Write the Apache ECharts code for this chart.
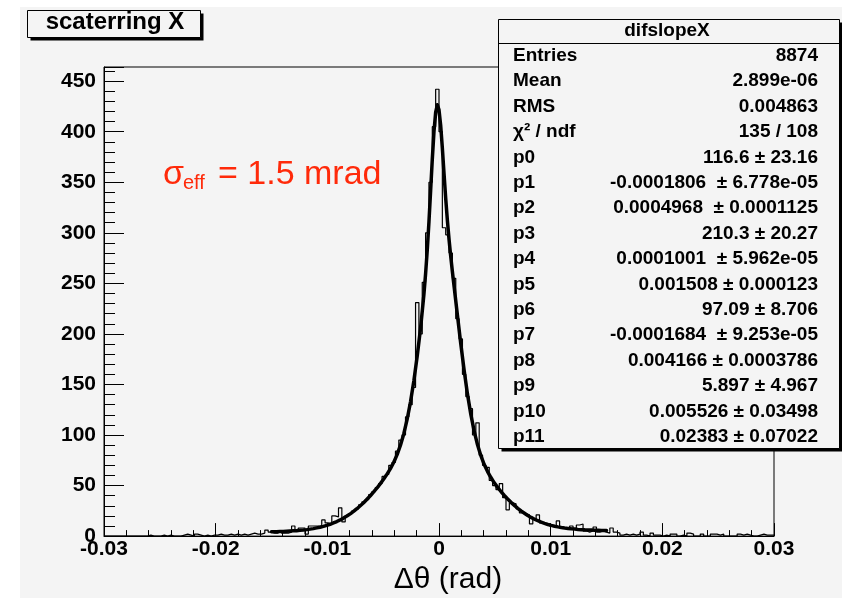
<!DOCTYPE html>
<html>
<head>
<meta charset="utf-8">
<script src="https://cdn.jsdelivr.net/npm/echarts@6/dist/echarts.min.js"></script>
<style>
html,body{margin:0;padding:0;background:#fff;}
#chart{width:842px;height:600px;}
</style>
</head>
<body>
<div id="chart"></div>
<script>
// ---- data ----
const histTitle = 'scaterring X';
const statsTitle = 'difslopeX';
const binMin = -0.03;
const binWidth = 0.0003;
const xTicks = [-0.03, -0.02, -0.01, 0, 0.01, 0.02, 0.03];
const yTicks = [0, 50, 100, 150, 200, 250, 300, 350, 400, 450];
const histCounts = [
  0,0,0,0,0,0,0,0,0,0,
  0,0,0,1,0,0,0,1,0,1,
  0,0,0,1,2,1,0,2,1,0,
  1,0,1,1,2,1,1,2,1,2,
  1,2,1,2,3,2,2,3,6,4,
  3,3,5,3,3,4,10,6,8,8,
  2,10,10,10,10,16,13,12,20,19,
  28,14,20,22,25,27,31,34,36,41,
  44,48,52,59,61,70,73,84,95,100,
  118,130,147,231,200,251,300,350,405,442,
  400,305,298,280,255,215,195,160,138,126,
  100,112,80,70,68,55,50,46,52,38,
  26,33,32,27,23,22,21,12,17,21,
  13,12,12,10,10,15,8,8,7,10,
  8,11,12,5,4,5,9,4,5,4,
  3,8,4,3,1,2,1,2,1,2,
  4,1,0,3,1,1,0,1,0,2,
  2,0,1,0,3,2,0,0,2,0,
  0,2,2,1,2,0,0,0,0,2,
  1,2,1,0,0,1,2,1,1,1
];
const fitX = [
  -0.015,-0.01485,-0.01455,-0.01425,-0.01395,-0.01365,-0.01335,-0.01305,-0.01275,-0.01245,
  -0.01215,-0.01185,-0.01155,-0.01125,-0.01095,-0.01065,-0.01035,-0.01005,-0.00975,-0.00945,
  -0.00915,-0.00885,-0.00855,-0.00825,-0.00795,-0.00765,-0.00735,-0.00705,-0.00675,-0.00645,
  -0.00615,-0.00585,-0.00555,-0.00525,-0.00495,-0.00465,-0.00435,-0.00405,-0.00375,-0.00345,
  -0.00315,-0.00285,-0.00255,-0.00225,-0.00195,-0.00165,-0.00135,
  -0.0012,-0.00105,-0.0009,-0.00075,-0.0006,-0.00045,-0.0003,-0.00015,0,
  0.00015,0.0003,0.00045,0.0006,0.00075,0.0009,0.00105,0.0012,0.00135,
  0.00165,0.00195,0.00225,0.00255,0.00285,0.00315,0.00345,0.00375,0.00405,0.00435,
  0.00465,0.00495,0.00525,0.00555,0.00585,0.00615,0.00645,0.00675,0.00705,0.00735,
  0.00765,0.00795,0.00825,0.00855,0.00885,0.00915,0.00945,0.00975,0.01005,0.01035,
  0.01065,0.01095,0.01125,0.01155,0.01185,0.01215,0.01245,0.01275,0.01305,0.01335,
  0.01365,0.01395,0.01425,0.01455,0.01485,0.015
];
const fitY = [
  4.25,4.3,4.4,4.5,4.6,4.8,5.0,5.2,5.4,5.7,
  6.0,6.4,6.9,7.4,8.1,8.8,9.6,10.6,11.7,13.0,
  14.4,16.0,17.8,19.8,22.0,24.4,27.1,30.0,33.0,36.4,
  39.9,43.7,47.6,51.9,56.4,61.3,66.8,73.1,80.6,89.9,
  101.3,115.6,132.8,153.7,178.1,205.8,239.1,
  259.6,283.1,310.9,341.7,372.8,400.1,419.0,426.6,421.6,
  406.2,383.8,358.6,334.1,312.3,293.4,276.7,261.5,247.1,
  218.5,190.2,164.1,140.4,120.4,103.8,90.3,79.5,70.8,63.8,
  57.9,52.7,48.2,44.1,40.2,36.7,33.4,30.4,27.5,24.9,
  22.6,20.4,18.5,16.7,15.2,13.8,12.6,11.5,10.6,9.8,
  9.1,8.5,8.0,7.6,7.2,6.9,6.6,6.4,6.2,6.1,
  5.95,5.83,5.74,5.66,5.6,5.57
];
const statLabels = ['Entries','Mean','RMS','χ² / ndf','p0','p1','p2','p3','p4','p5','p6','p7','p8','p9','p10','p11'];
const statValues = ['8874','2.899e-06','0.004863','135 / 108',
  '116.6 ± 23.16','-0.0001806  ± 6.778e-05','0.0004968  ± 0.0001125','210.3 ± 20.27',
  '0.0001001  ± 5.962e-05','0.001508 ± 0.000123','97.09 ± 8.706','-0.0001684  ± 9.253e-05',
  '0.004166 ± 0.0003786','5.897 ± 4.967','0.005526 ± 0.03498','0.02383 ± 0.07022'];
const xAxisTitle = 'Δθ (rad)';
const noteMain = 'σ';
const noteSub = 'eff';
const noteRest = '= 1.5 mrad';

// ---- build ----
const FONT = '"Liberation Sans", Arial, Helvetica, sans-serif';
const BG = '#f4f4f4';
const histPoints = histCounts.map((v, k) => [binMin + k * binWidth, v]);
histPoints.push([binMin + histCounts.length * binWidth, histCounts[histCounts.length - 1]]);
const fitPoints = fitX.map((x, i) => [x, fitY[i]]);

const graphics = [
  {type:'rect', z:-100, silent:true, shape:{x:20, y:7, width:822, height:591}, style:{fill:BG}},
  // title box
  {type:'rect', z:100, shape:{x:30.5, y:13.5, width:173, height:27}, style:{fill:'#000'}},
  {type:'rect', z:101, shape:{x:27.5, y:10.5, width:173, height:27}, style:{fill:BG, stroke:'#000', lineWidth:1}},
  {type:'text', z:102, x:115, y:22, style:{text:histTitle, font:'bold 24px ' + FONT, fill:'#000', align:'center', verticalAlign:'middle'}},
  // stats box
  {type:'rect', z:100, shape:{x:501.5, y:22.5, width:341, height:429}, style:{fill:'#000'}},
  {type:'rect', z:101, shape:{x:498.5, y:19.5, width:341, height:429}, style:{fill:BG, stroke:'#000', lineWidth:1}},
  {type:'line', z:102, shape:{x1:498.5, y1:43.5, x2:839.5, y2:43.5}, style:{stroke:'#000', lineWidth:1}},
  {type:'text', z:102, x:667, y:31, style:{text:statsTitle, font:'bold 19px ' + FONT, fill:'#000', align:'center', verticalAlign:'middle'}},
  // red annotation
  {type:'text', z:50, x:163, y:175, style:{text:noteMain, font:'34px ' + FONT, fill:'#ff2a0a', align:'left', verticalAlign:'middle'}},
  {type:'text', z:50, x:183, y:183, style:{text:noteSub, font:'20px ' + FONT, fill:'#ff2a0a', align:'left', verticalAlign:'middle'}},
  {type:'text', z:50, x:218, y:175, style:{text:noteRest, font:'34px ' + FONT, fill:'#ff2a0a', align:'left', verticalAlign:'middle'}}
];
statLabels.forEach((lab, i) => {
  const y = 55.7 + i * 25.4;
  graphics.push({type:'text', z:102, x:513, y:y, style:{text:lab, font:'bold 19px ' + FONT, fill:'#000', align:'left', verticalAlign:'middle'}});
  graphics.push({type:'text', z:102, x:818, y:y, style:{text:statValues[i], font:'bold 19px ' + FONT, fill:'#000', align:'right', verticalAlign:'middle'}});
});

const chart = echarts.init(document.getElementById('chart'), null, {renderer:'canvas'});
chart.setOption({
  animation:false,
  backgroundColor:'#fff',
  grid:{left:104, right:68, top:67, bottom:58, show:true, borderColor:'#000', borderWidth:1, backgroundColor:'transparent', containLabel:false},
  xAxis:{
    type:'value', min:xTicks[0], max:xTicks[xTicks.length-1], interval:0.01,
    axisLine:{show:true, onZero:false, lineStyle:{color:'#000', width:1}},
    axisTick:{show:true, inside:true, length:13, lineStyle:{color:'#000', width:1}},
    minorTick:{show:true, splitNumber:5, length:6, lineStyle:{color:'#000', width:1}},
    splitLine:{show:false},
    axisLabel:{color:'#000', fontFamily:FONT, fontWeight:'bold', fontSize:21, margin:3,
      formatter:(v) => String(Number(v.toFixed(2)))},
    name:xAxisTitle, nameLocation:'middle', nameGap:28,
    nameTextStyle:{color:'#000', fontFamily:FONT, fontSize:30, padding:[0,0,0,18]}
  },
  yAxis:{
    type:'value', min:0, max:464, interval:50,
    axisLine:{show:true, onZero:false, lineStyle:{color:'#000', width:1}},
    axisTick:{show:true, inside:true, length:20, lineStyle:{color:'#000', width:1}},
    minorTick:{show:true, splitNumber:5, length:11, lineStyle:{color:'#000', width:1}},
    splitLine:{show:false},
    axisLabel:{color:'#000', fontFamily:FONT, fontWeight:'bold', fontSize:21, margin:8,
      formatter:(v) => (yTicks.indexOf(Math.round(v)) >= 0 && Math.abs(v - Math.round(v)) < 1e-6) ? String(Math.round(v)) : ''}
  },
  series:[
    {type:'line', name:'hist', data:histPoints, step:'end', symbol:'none', showSymbol:false,
      lineStyle:{color:'#000', width:1.2}, z:2, silent:true},
    {type:'line', name:'fit', data:fitPoints, symbol:'none', showSymbol:false, smooth:false,
      lineStyle:{color:'#000', width:3.5, join:'round', cap:'round'}, z:3, silent:true}
  ],
  graphic:graphics
});
</script>
</body>
</html>
